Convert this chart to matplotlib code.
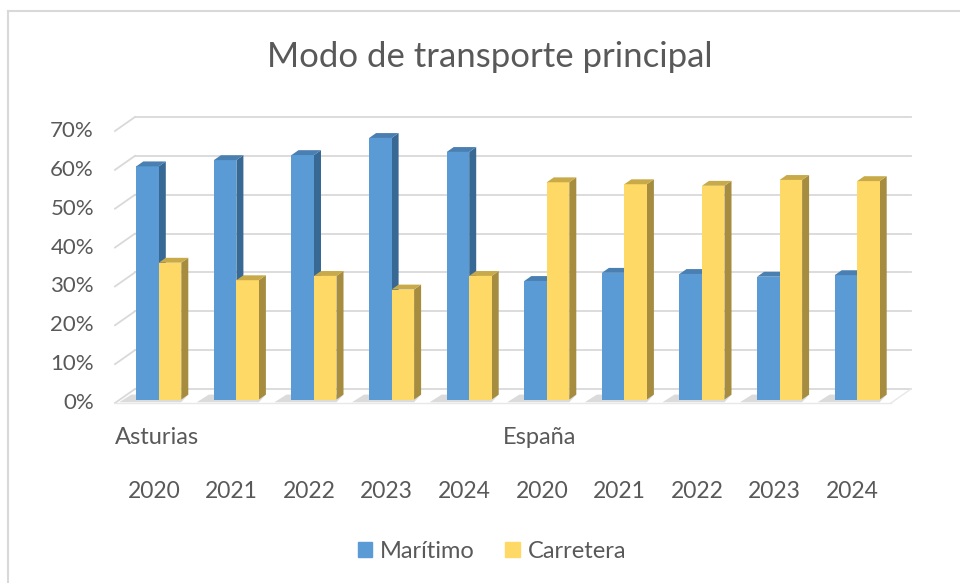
import matplotlib.pyplot as plt
from matplotlib.patches import Polygon, Patch

# Data (percent)
regions = ["Asturias", "España"]
years = ["2020", "2021", "2022", "2023", "2024"]
maritimo = [60.0, 61.6, 62.9, 67.3, 63.7, 30.5, 32.6, 32.3, 31.6, 32.0]
carretera = [35.2, 30.7, 31.8, 28.3, 31.8, 55.9, 55.4, 55.0, 56.5, 56.2]
yticks = [0, 10, 20, 30, 40, 50, 60, 70]

BLUE = "#5b9bd5"
BLUE_TOP = "#4a7fb2"
BLUE_SIDE = "#386894"
YEL = "#ffd966"
YEL_TOP = "#c9aa48"
YEL_SIDE = "#a68c3e"
GRID = "#d9d9d9"
TXT = "#595959"

plt.rcParams['font.family'] = ['Lato', 'DejaVu Sans']

# pixel layout of the plot area
U = 77.6    # px per category
K = 3.886   # px per percent
X0 = 115    # left of front floor (px)
Y0 = 403    # front floor baseline (px from top)
W, H = 960, 583

fig = plt.figure(figsize=(W / 100, H / 100), dpi=100)
ax = fig.add_axes([0, 0, 1, 1])
ax.set_xlim(-X0 / U - 0.5, (W - X0) / U - 0.5)
ax.set_ylim((Y0 - H) / K, Y0 / K)
ax.axis("off")

# depth of the whole floor, and of the bars
DX, DY = 20 / U, 14 / K
F0, F1 = 0.25, 0.6
bw = 22.5 / U
n = len(maritimo)

# walls
for v in yticks:
    ax.plot([-0.5 + DX, n - 0.5 + DX], [v + DY, v + DY], color=GRID, lw=1.3, zorder=0)
    ax.plot([-0.5, -0.5 + DX], [v, v + DY], color=GRID, lw=1.3, zorder=0)
    ax.text(-0.5 - 21 / U, v, f"{v}%", ha="right", va="center", fontsize=16, color=TXT)
ax.plot([-0.5, n - 0.5], [0, 0], color="#e8e8e8", lw=1.0, zorder=0)
ax.plot([n - 0.5, n - 0.5 + DX], [0, DY], color="#e8e8e8", lw=1.0, zorder=0)

# bars
xc = [i + F0 * DX for i in range(n)]
base = F0 * DY
bdx, bdy = (F1 - F0) * DX, (F1 - F0) * DY
xb = [x - bw for x in xc]

for i in range(n):
    # floor shadow
    sx = xb[i]
    ax.add_patch(Polygon([(sx - 0.22, 0.2), (sx + 2 * bw, 0.2), (sx + 2 * bw + bdx, base + bdy),
                          (sx - 0.22 + DX * 0.6, base + bdy)],
                         closed=True, color="#b0b0b0", alpha=0.45, lw=0, zorder=1))

ax.bar(xb, maritimo, width=bw, bottom=base, align="edge", color=BLUE, zorder=2)
ax.bar(xc, carretera, width=bw, bottom=base, align="edge", color=YEL, zorder=4)

for x, vals, top_c, side_c, z in [(xb, maritimo, BLUE_TOP, BLUE_SIDE, 2),
                                  (xc, carretera, YEL_TOP, YEL_SIDE, 4)]:
    for xi, v in zip(x, vals):
        t = base + v
        ax.add_patch(Polygon([(xi + bw, base), (xi + bw, t), (xi + bw + bdx, t + bdy),
                              (xi + bw + bdx, base + bdy)], closed=True, color=side_c, lw=0, zorder=z - 0.5))
        ax.add_patch(Polygon([(xi, t), (xi + bw, t), (xi + bw + bdx, t + bdy),
                              (xi + bdx, t + bdy)], closed=True, color=top_c, lw=0, zorder=z + 0.5))

# category labels
for j, r in enumerate(regions):
    ax.text(j * len(years) - 0.5, (Y0 - 438) / K, r, ha="left", va="center", fontsize=17, color=TXT)
for i in range(n):
    ax.text(i, (Y0 - 491) / K, years[i % len(years)], ha="center", va="center", fontsize=16.5, color=TXT)

# chart border (left and top visible)
ax.plot([-X0 / U - 0.5 + 8 / U] * 2, [(Y0 - H) / K, (Y0 - 11) / K], color=GRID, lw=1.5, clip_on=False)
ax.plot([-X0 / U - 0.5 + 8 / U, (W - X0) / U], [(Y0 - 11) / K] * 2, color=GRID, lw=1.5, clip_on=False)

fig.text(490 / W, 1 - 57 / H, "Modo de transporte principal", ha="center", va="center",
         fontsize=25, color=TXT)

handles = [Patch(color=BLUE, label="Marítimo"), Patch(color=YEL, label="Carretera")]
fig.legend(handles=handles, loc="center", bbox_to_anchor=(492 / W, 1 - 551 / H), ncol=2,
           frameon=False, fontsize=17, handlelength=0.6, handleheight=0.6,
           handletextpad=0.35, columnspacing=1.3, labelcolor=TXT)

fig.savefig("out.png", dpi=100)
